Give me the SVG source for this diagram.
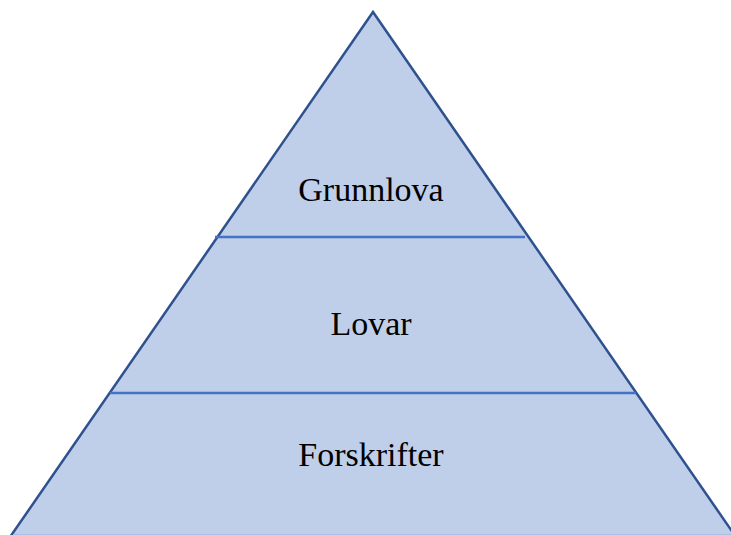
<svg xmlns="http://www.w3.org/2000/svg" width="731" height="535" viewBox="0 0 731 535">
<style>
.lvl{font-family:"Liberation Serif","Times New Roman",serif;font-size:34px;fill:#000;text-anchor:middle}
.div{stroke:#4472C4;stroke-width:2.5}
</style>
<rect width="731" height="535" fill="#fff"/>
<g id="pyramid">
<polygon points="373,12 8,540 738,540" fill="#BFCFEA" stroke="#2F528F" stroke-width="2.5" stroke-linejoin="miter"/>
<line x1="13" y1="534.5" x2="731" y2="534.5" stroke="#A9BEE2" stroke-width="1"/>
</g>
<g id="connectors">
<line class="div" x1="215" y1="237" x2="525" y2="237"/>
<line class="div" x1="110" y1="393" x2="636" y2="393"/>
</g>
<g id="grunnlova"><text class="lvl" x="371" y="201">Grunnlova</text></g>
<g id="lovar"><text class="lvl" x="371" y="335">Lovar</text></g>
<g id="forskrifter"><text class="lvl" x="371" y="466">Forskrifter</text></g>
</svg>
